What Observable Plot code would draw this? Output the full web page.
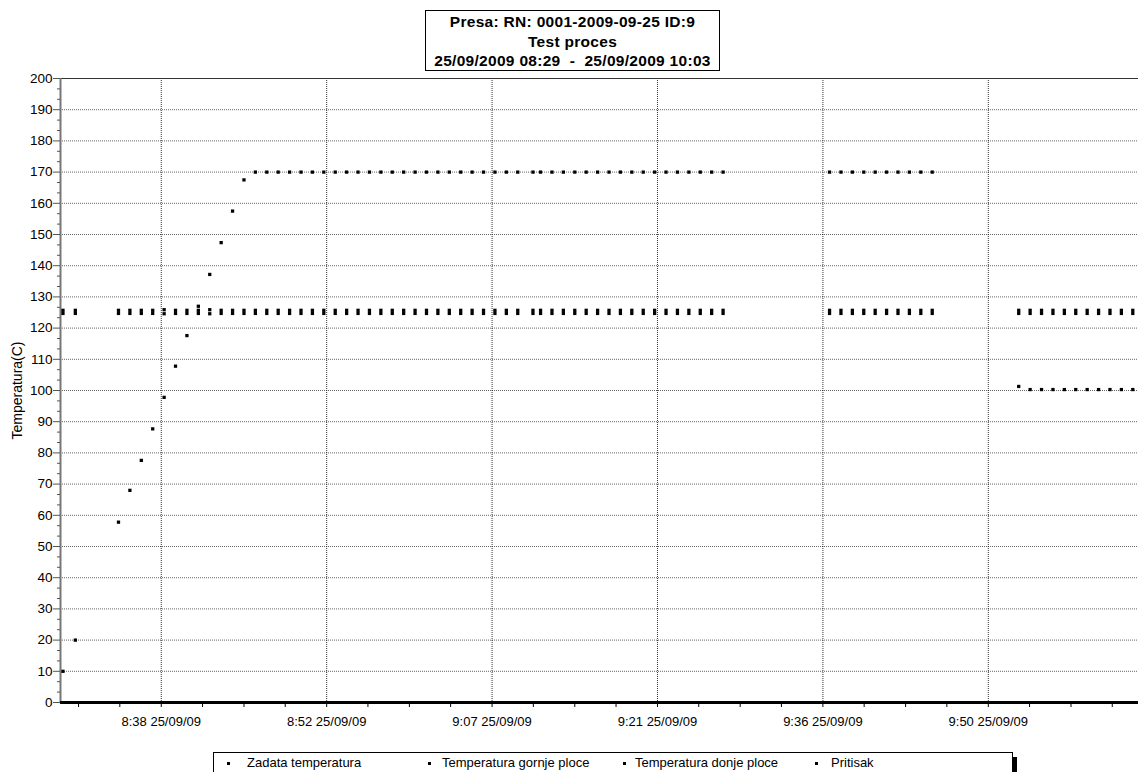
<!DOCTYPE html>
<html>
<head>
<meta charset="utf-8">
<script src="https://cdn.jsdelivr.net/npm/d3@7"></script>
<script src="https://cdn.jsdelivr.net/npm/@observablehq/plot@0.6"></script>
<style>
html, body { margin: 0; padding: 0; background: #fff; }
#wrap { position: relative; width: 1138px; height: 772px; overflow: hidden; font-family: "Liberation Sans", Arial, sans-serif; color: #000; }
#chart { position: absolute; left: 0; top: 0; }
#title { position: absolute; left: 425px; top: 10px; width: 295px; height: 61px; border: 1px solid #000; box-sizing: border-box; background: #fff;
  text-align: center; font-weight: bold; font-size: 15.5px; line-height: 19.5px; padding-top: 1px; letter-spacing: 0.3px; }
#legend { position: absolute; left: 213px; top: 752px; width: 800px; height: 40px; border: 1px solid #000; box-sizing: border-box; font-size: 13px; }
#legend .b { position: absolute; top: 9px; width: 3px; height: 3px; background: #000; }
#legend .t { position: absolute; top: 2px; line-height: 16px; white-space: nowrap; }
#bar { position: absolute; left: 1012px; top: 757px; width: 5px; height: 20px; background: #000; }
</style>
</head>
<body>
<div id="wrap">
  <div id="chart"></div>
  <div id="title"></div>
  <div id="legend"></div>
  <div id="bar"></div>
</div>
<script>
// ---- text ----
const titleLines = ["Presa: RN: 0001-2009-09-25 ID:9", "Test proces", "25/09/2009 08:29  -  25/09/2009 10:03"];
const yLabel = "Temperatura(C)";
const legendNames = ["Zadata temperatura", "Temperatura gornje ploce", "Temperatura donje ploce", "Pritisak"];

// ---- sample times (25/09/2009) ----
const timesA = ["08:28:53", "08:29:58"];
const timesB = ["08:33:45","08:34:45","08:35:45","08:36:45","08:37:45","08:38:45","08:39:45","08:40:45","08:41:45","08:42:45","08:43:45","08:44:45",
  "08:45:45","08:46:45","08:47:45","08:48:45","08:49:45","08:50:45","08:51:45","08:52:45","08:53:45","08:54:45","08:55:45","08:56:45","08:57:45","08:58:45","08:59:45",
  "09:00:45","09:01:45","09:02:45","09:03:45","09:04:45","09:05:45","09:06:45","09:07:45","09:08:45","09:10:05","09:10:45","09:11:45","09:12:45","09:13:45","09:14:45",
  "09:15:45","09:16:45","09:17:45","09:18:45","09:19:45","09:20:45","09:21:45","09:22:45","09:23:45","09:24:45","09:25:45","09:26:45"];
const timesC = ["09:36:05","09:37:05","09:38:05","09:39:05","09:40:05","09:41:05","09:42:05","09:43:05","09:44:05","09:45:05"];
const timesD = ["09:52:40","09:53:40","09:54:40","09:55:40","09:56:40","09:57:40","09:58:40","09:59:40","10:00:40","10:01:40","10:02:40"];

// ---- series values (same order as the times) ----
const zadataA = [10, 20];
const zadataB = [57.8, 68, 77.6, 87.7, 97.8, 107.8, 117.6, 127, 137.2, 147.4, 157.5, 167.5,
  170,170,170,170,170,170,170,170,170,170,170,170,170,170,170,170,170,170,170,170,170,
  170,170,170,170,170,170,170,170,170,170,170,170,170,170,170,170,170,170,170,170,170];
const zadataC = [170,170,170,170,170,170,170,170,170,170];
const zadataD = [101.3,100.3,100.3,100.3,100.3,100.3,100.3,100.3,100.3,100.3,100.3];

const gornjeA = [125.7, 125.7];
const gornjeB = [125.7,125.7,125.7,125.7,125.9,125.7,125.7,125.7,125.9,125.7,125.7,125.7,
  125.7,125.7,125.7,125.7,125.7,125.7,125.7,125.7,125.7,125.7,125.7,125.7,125.7,125.7,125.7,
  125.7,125.7,125.7,125.7,125.7,125.7,125.7,125.7,125.7,125.7,125.7,125.7,125.7,125.7,125.7,
  125.7,125.7,125.7,125.7,125.7,125.7,125.7,125.7,125.7,125.7,125.7,125.7];
const gornjeC = [125.7,125.7,125.7,125.7,125.7,125.7,125.7,125.7,125.7,125.7];
const gornjeD = [125.7,125.7,125.7,125.7,125.7,125.7,125.7,125.7,125.7,125.7,125.7];

const donjeA = [124.7, 124.7];
const donjeB = [124.7,124.7,124.7,124.7,124.6,124.7,124.7,124.7,124.6,124.7,124.7,124.7,
  124.7,124.7,124.7,124.7,124.7,124.7,124.7,124.7,124.7,124.7,124.7,124.7,124.7,124.7,124.7,
  124.7,124.7,124.7,124.7,124.7,124.7,124.7,124.7,124.7,124.7,124.7,124.7,124.7,124.7,124.7,
  124.7,124.7,124.7,124.7,124.7,124.7,124.7,124.7,124.7,124.7,124.7,124.7];
const donjeC = [124.7,124.7,124.7,124.7,124.7,124.7,124.7,124.7,124.7,124.7];
const donjeD = [124.7,124.7,124.7,124.7,124.7,124.7,124.7,124.7,124.7,124.7,124.7];

// ---- axes ----
const xDomain = ["08:28:40", "10:03:10"];
const xTickTimes = ["08:37:30", "08:52:00", "09:06:30", "09:21:00", "09:35:30", "09:50:00"];
const xTickLabels = ["8:38 25/09/09", "8:52 25/09/09", "9:07 25/09/09", "9:21 25/09/09", "9:36 25/09/09", "9:50 25/09/09"];
const xMinorTimes = ["08:30:15","08:33:52","08:41:07","08:44:45","08:48:22","08:55:37","08:59:15","09:02:52","09:10:07","09:13:45",
  "09:17:22","09:24:37","09:28:15","09:31:52","09:39:07","09:42:45","09:46:22","09:53:37","09:57:15","10:00:52"];
const yTicks = d3.range(0, 201, 10);
const yMinor = d3.range(0, 200, 10 / 3).filter(v => Math.abs(v / 10 - Math.round(v / 10)) > 0.01);

// ---- build ----
const T = s => new Date("2009-09-25T" + s + "Z");
const times = [...timesA, ...timesB, ...timesC, ...timesD].map(T);
const zadata = [...zadataA, ...zadataB, ...zadataC, ...zadataD];
const gornje = [...gornjeA, ...gornjeB, ...gornjeC, ...gornjeD];
const donje = [...donjeA, ...donjeB, ...donjeC, ...donjeD];
const rows = (vals) => vals.map((v, i) => ({t: times[i], v}));
const labelMap = new Map(xTickTimes.map((s, i) => [+T(s), xTickLabels[i]]));

const chart = Plot.plot({
  width: 1138,
  height: 735,
  marginLeft: 60,
  marginRight: 0,
  marginTop: 78,
  marginBottom: 33,
  x: {type: "utc", domain: xDomain.map(T)},
  y: {domain: [0, 200]},
  style: {fontFamily: "Liberation Sans, Arial, sans-serif", fontSize: "13px", background: "transparent", color: "#000", overflow: "visible"},
  marks: [
    Plot.gridY(yTicks.filter(v => v > 0 && v < 200), {stroke: "#000", strokeOpacity: 0.6, strokeDasharray: "1,1", strokeWidth: 1}),
    Plot.gridX(xTickTimes.map(T), {stroke: "#000", strokeOpacity: 0.8, strokeDasharray: "1,1", strokeWidth: 1}),
    Plot.ruleY([200], {stroke: "#333", strokeWidth: 1}),
    Plot.ruleX([T(xDomain[0])], {stroke: "#777", strokeWidth: 2}),
    Plot.dot(rows(gornje), {x: "t", y: "v", symbol: "square", r: 1.85, fill: "#000", stroke: null}),
    Plot.dot(rows(donje), {x: "t", y: "v", symbol: "square", r: 1.85, fill: "#000", stroke: null}),
    Plot.dot(rows(zadata), {x: "t", y: "v", symbol: "square", r: 1.85, fill: "#000", stroke: null}),
    Plot.axisY(yTicks, {anchor: "left", tickSize: 7, tickPadding: 1, fontSize: 13.5, stroke: "#555", label: null}),
    Plot.axisY(yMinor, {anchor: "left", tickSize: 3, tickFormat: () => "", stroke: "#555", label: null}),
    Plot.axisX(xTickTimes.map(T), {anchor: "bottom", tickSize: 5, tickPadding: 9, tickFormat: d => labelMap.get(+d), fontSize: 13, label: null}),
    Plot.axisX(xMinorTimes.map(T), {anchor: "bottom", tickSize: 5, tickFormat: () => "", label: null}),
    Plot.ruleY([0], {stroke: "#000", strokeWidth: 3}),
    Plot.text([yLabel], {frameAnchor: "left", rotate: -90, dx: -43, fontSize: 14, textAnchor: "middle"})
  ]
});
document.getElementById("chart").appendChild(chart);

// title
document.getElementById("title").innerHTML = titleLines.map(s => `<div>${s.replace(/ /g, "&nbsp;")}</div>`).join("");

// legend
const bulletX = [13, 214, 409, 601];
const textX = [33, 228, 421, 617];
const leg = document.getElementById("legend");
legendNames.forEach((n, i) => {
  const b = document.createElement("div"); b.className = "b"; b.style.left = bulletX[i] + "px"; leg.appendChild(b);
  const t = document.createElement("div"); t.className = "t"; t.style.left = textX[i] + "px"; t.textContent = n; leg.appendChild(t);
});
</script>
</body>
</html>
